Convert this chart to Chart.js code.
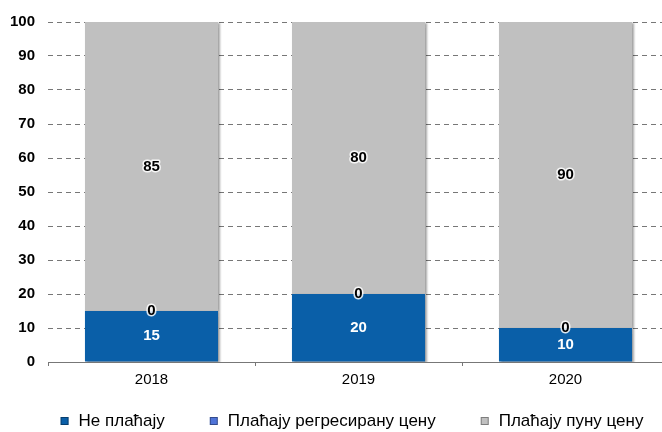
<!DOCTYPE html>
<html><head><meta charset="utf-8">
<script src="https://cdn.jsdelivr.net/npm/chart.js@4/dist/chart.umd.min.js"></script>
<style>
html,body{margin:0;padding:0;background:#fff;overflow:hidden;}
#wrap{width:669px;height:432px;}
</style></head>
<body><div id="wrap"><canvas id="c" width="669" height="432"></canvas></div>
<script>
const categories = ['2018', '2019', '2020'];
const seriesNames = ['Не плаћају', 'Плаћају регресирану цену', 'Плаћају пуну цену'];
const notPaying = [15, 20, 10];
const reducedPrice = [0, 0, 0];
const fullPrice = [85, 80, 90];
const yTicks = [0, 10, 20, 30, 40, 50, 60, 70, 80, 90, 100];

const colors = ['#0A5FA8', '#4F74D8', '#C0C0C0'];
const labelColors = ['#ffffff', '#000000', '#000000'];
const FONT = '"Liberation Sans", Arial, sans-serif';

const labelPlugin = {
  id: 'barLabels',
  afterDatasetsDraw(chart) {
    const ctx = chart.ctx;
    ctx.save();
    ctx.font = 'bold 15px ' + FONT;
    ctx.textAlign = 'center';
    ctx.textBaseline = 'middle';
    ctx.lineJoin = 'round';
    chart.data.datasets.forEach((ds, di) => {
      const meta = chart.getDatasetMeta(di);
      meta.data.forEach((bar, i) => {
        const v = ds.data[i];
        const yc = (bar.y + bar.base) / 2;
        if (labelColors[di] === '#000000') {
          ctx.strokeStyle = 'rgba(255,255,255,0.85)';
          ctx.lineWidth = 3;
          ctx.strokeText(String(v), bar.x, yc);
        }
        ctx.fillStyle = labelColors[di];
        ctx.fillText(String(v), bar.x, yc);
      });
    });
    ctx.restore();
  }
};

const shadowPlugin = {
  id: 'barShadow',
  beforeDatasetsDraw(chart) {
    const ctx = chart.ctx;
    ctx.save();
    ctx.shadowColor = 'rgba(0,0,0,0.35)';
    ctx.shadowOffsetX = 2;
    ctx.shadowOffsetY = 1;
    ctx.shadowBlur = 2;
  },
  afterDatasetsDraw(chart) {
    chart.ctx.restore();
  }
};

// legend drawn on the canvas from the dataset labels and colours
const legendPlugin = {
  id: 'customLegend',
  afterDraw(chart) {
    const ctx = chart.ctx;
    ctx.save();
    ctx.font = '17px ' + FONT;
    ctx.textBaseline = 'middle';
    const box = 8, textOff = 18, gap = 45, cy = 421, centerX = 352;
    const ds = chart.data.datasets;
    const widths = ds.map(d => ctx.measureText(d.label).width);
    let total = 0;
    widths.forEach((w, i) => { total += textOff + w + (i < widths.length - 1 ? gap : 0); });
    let x = centerX - total / 2;
    ds.forEach((d, i) => {
      ctx.fillStyle = d.backgroundColor;
      ctx.fillRect(x, cy - box / 2, box, box);
      ctx.strokeStyle = 'rgba(0,0,0,0.35)';
      ctx.lineWidth = 1;
      ctx.strokeRect(x + 0.5, cy - box / 2 + 0.5, box - 1, box - 1);
      ctx.fillStyle = '#000';
      ctx.fillText(d.label, x + textOff, cy);
      x += textOff + widths[i] + gap;
    });
    ctx.restore();
  }
};

new Chart(document.getElementById('c'), {
  type: 'bar',
  data: {
    labels: categories,
    datasets: [
      { label: seriesNames[0], data: notPaying, backgroundColor: colors[0], barPercentage: 0.643, categoryPercentage: 1 },
      { label: seriesNames[1], data: reducedPrice, backgroundColor: colors[1], barPercentage: 0.643, categoryPercentage: 1 },
      { label: seriesNames[2], data: fullPrice, backgroundColor: colors[2], barPercentage: 0.643, categoryPercentage: 1 }
    ]
  },
  options: {
    responsive: false,
    animation: false,
    layout: { padding: { left: 10, top: 7, right: 0, bottom: 38 } },
    scales: {
      x: {
        stacked: true,
        grid: { display: true, drawOnChartArea: false, drawTicks: true, tickLength: 4, color: '#777', offset: true },
        border: { display: true, color: '#777', width: 1 },
        ticks: { color: '#000', font: { family: FONT, size: 15 }, padding: 5 }
      },
      y: {
        stacked: true,
        min: 0, max: 100,
        afterBuildTicks(scale) { scale.ticks = yTicks.map(v => ({ value: v })); },
        afterFit(scale) { scale.width = 38; },
        grid: { color: '#777', lineWidth: 1, drawTicks: false },
        border: { display: false, dash: [5, 4] },
        ticks: { color: '#000', font: { family: FONT, size: 15, weight: 'bold' }, padding: 13 }
      }
    },
    plugins: {
      legend: { display: false },
      tooltip: { enabled: false }
    }
  },
  plugins: [shadowPlugin, labelPlugin, legendPlugin]
});
</script>
</body></html>
